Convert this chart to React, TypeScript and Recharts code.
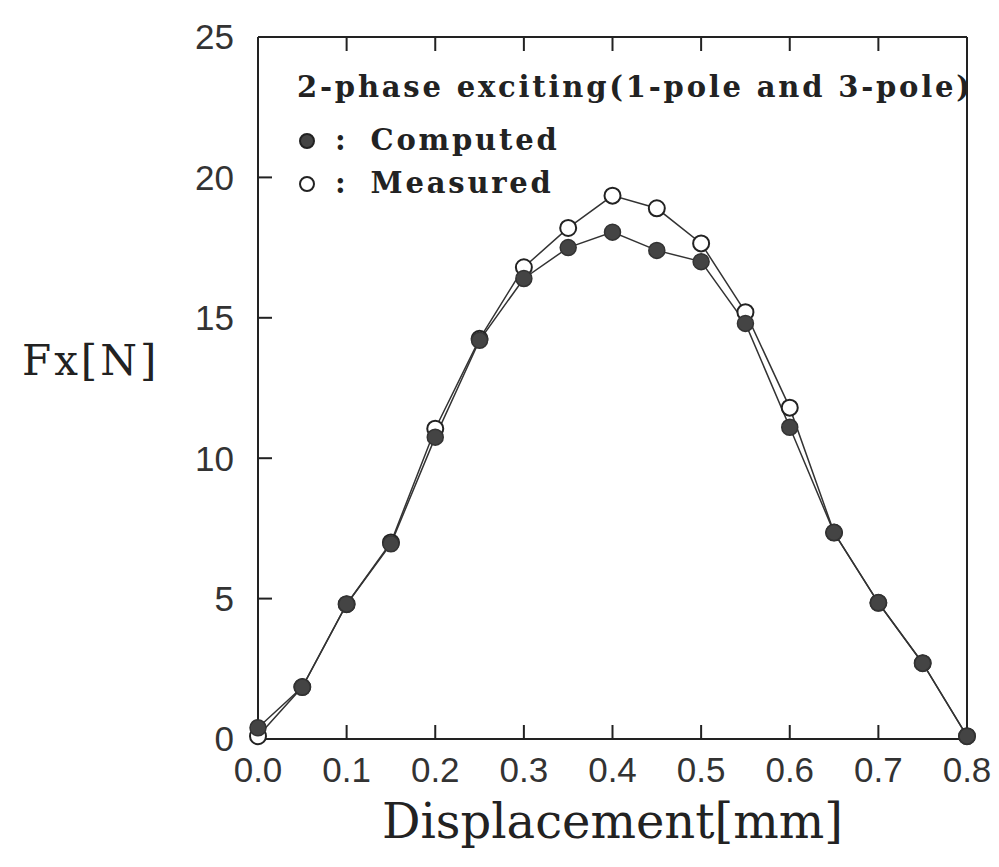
import React from "react";
import {
  LineChart,
  Line,
  XAxis,
  YAxis,
  Legend,
} from "recharts";

// displacement [mm]
const displacement = [0, 0.05, 0.1, 0.15, 0.2, 0.25, 0.3, 0.35, 0.4, 0.45, 0.5, 0.55, 0.6, 0.65, 0.7, 0.75, 0.8];
// Fx [N]
const computedForce = [0.4, 1.85, 4.8, 6.95, 10.75, 14.2, 16.4, 17.5, 18.05, 17.4, 17.0, 14.8, 11.1, 7.35, 4.85, 2.7, 0.1];
const measuredForce = [0.1, 1.85, 4.8, 7.0, 11.05, 14.25, 16.8, 18.2, 19.35, 18.9, 17.65, 15.2, 11.8, 7.35, 4.85, 2.7, 0.1];

const xTicks = [0, 0.1, 0.2, 0.3, 0.4, 0.5, 0.6, 0.7, 0.8];
const yTicks = [0, 5, 10, 15, 20, 25];

const legendTitle = "2-phase exciting(1-pole and 3-pole)";
const legendItems = [
  { name: "Computed", filled: true },
  { name: "Measured", filled: false },
];

const data = displacement.map((x, i) => ({
  x,
  computed: computedForce[i],
  measured: measuredForce[i],
}));

const ink = "#222";
const tickFont = { fontFamily: "Liberation Sans, Arial, sans-serif", fontSize: 35, fill: "#333" };

function renderLegend() {
  return (
    <div
      style={{
        fontFamily: "DejaVu Serif, serif",
        fontWeight: "bold",
        fontSize: 29,
        letterSpacing: 2.8,
        color: ink,
        lineHeight: "43px",
      }}
    >
      <div style={{ marginBottom: 10, whiteSpace: "nowrap" }}>{legendTitle}</div>
      {legendItems.map((item) => (
        <div key={item.name} style={{ display: "flex", alignItems: "center" }}>
          <svg width={20} height={20}>
            <circle
              cx={10}
              cy={10}
              r={7}
              fill={item.filled ? "#444" : "#fff"}
              stroke={ink}
              strokeWidth={2}
            />
          </svg>
          <span style={{ marginLeft: 18 }}>:</span>
          <span style={{ marginLeft: 22 }}>{item.name}</span>
        </div>
      ))}
    </div>
  );
}

export default function App() {
  return (
    <LineChart
      width={991}
      height={859}
      data={data}
      margin={{ top: 28, right: 31, bottom: 0, left: 0 }}
    >
      <XAxis
        xAxisId="bottom"
        dataKey="x"
        type="number"
        domain={[0, 0.8]}
        ticks={xTicks}
        tickFormatter={(v: number) => v.toFixed(1)}
        height={128}
        tickSize={-14}
        tickMargin={32}
        tick={tickFont}
        axisLine={{ stroke: ink, strokeWidth: 2 }}
        tickLine={{ stroke: ink, strokeWidth: 2 }}
        label={{
          value: "Displacement[mm]",
          position: "insideBottom",
          offset: 29,
          style: { fontFamily: "DejaVu Serif, serif", fontSize: 48, fill: ink },
        }}
      />
      <XAxis
        xAxisId="top"
        orientation="top"
        dataKey="x"
        type="number"
        domain={[0, 0.8]}
        ticks={xTicks}
        tickFormatter={() => ""}
        height={1}
        tickSize={-14}
        axisLine={{ stroke: ink, strokeWidth: 2 }}
        tickLine={{ stroke: ink, strokeWidth: 2 }}
      />
      <YAxis
        yAxisId="left"
        type="number"
        domain={[0, 25]}
        ticks={yTicks}
        width={250}
        tickSize={-14}
        tickMargin={38}
        tick={tickFont}
        axisLine={{ stroke: ink, strokeWidth: 2 }}
        tickLine={{ stroke: ink, strokeWidth: 2 }}
        label={{
          value: "Fx[N]",
          position: "insideLeft",
          offset: 14,
          dy: -28,
          style: {
            fontFamily: "DejaVu Serif, serif",
            fontSize: 42,
            letterSpacing: 3,
            fill: ink,
            textAnchor: "start",
          },
        }}
      />
      <YAxis
        yAxisId="right"
        orientation="right"
        type="number"
        domain={[0, 25]}
        ticks={yTicks}
        width={1}
        tickSize={-14}
        tickFormatter={() => ""}
        axisLine={{ stroke: ink, strokeWidth: 2 }}
        tickLine={{ stroke: ink, strokeWidth: 2 }}
      />
      <Legend
        layout="vertical"
        align="center"
        verticalAlign="middle"
        content={renderLegend}
        wrapperStyle={{ left: 289, top: 58, width: 690, height: 160 }}
      />
      <Line
        xAxisId="bottom"
        yAxisId="left"
        type="linear"
        dataKey="measured"
        name="Measured"
        stroke="#333"
        strokeWidth={1.5}
        dot={{ r: 8, fill: "#fff", stroke: ink, strokeWidth: 2 }}
        activeDot={false}
        isAnimationActive={false}
      />
      <Line
        xAxisId="bottom"
        yAxisId="left"
        type="linear"
        dataKey="computed"
        name="Computed"
        stroke="#333"
        strokeWidth={1.5}
        dot={{ r: 8, fill: "#444", stroke: "#333", strokeWidth: 1.5 }}
        activeDot={false}
        isAnimationActive={false}
      />
    </LineChart>
  );
}
